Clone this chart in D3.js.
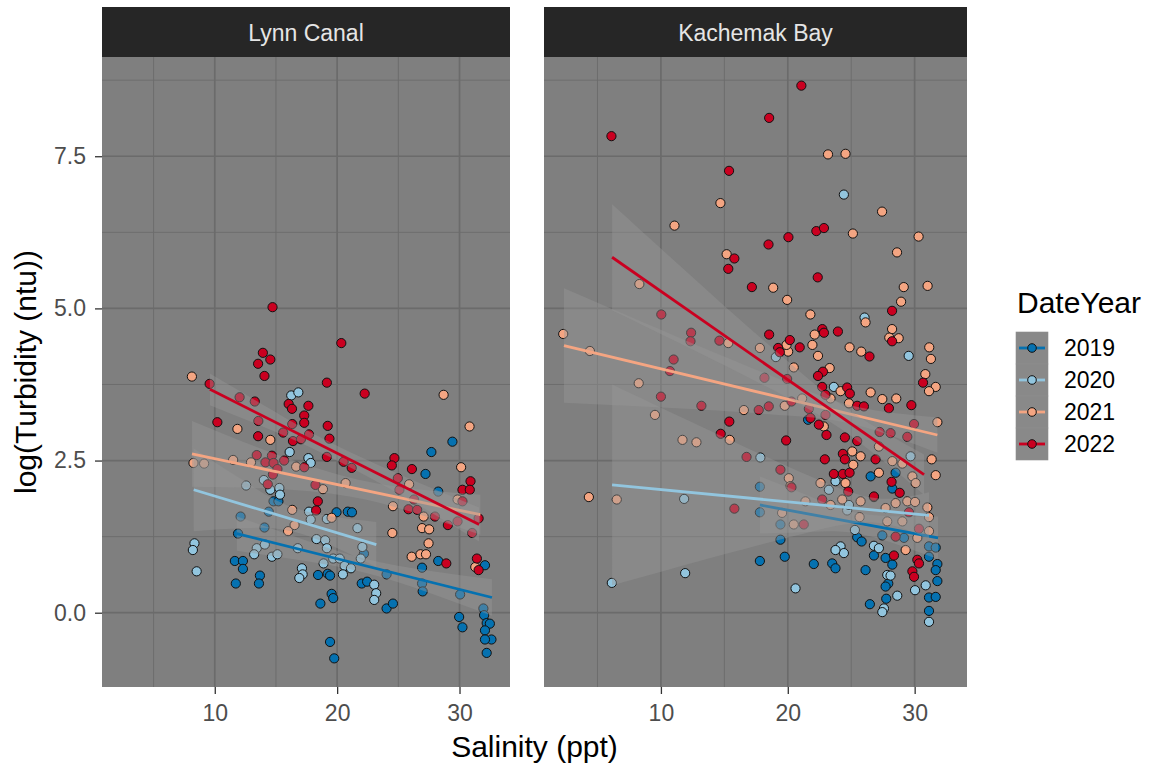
<!DOCTYPE html>
<html>
<head>
<meta charset="utf-8">
<script src="https://cdn.jsdelivr.net/npm/d3@7"></script>
<style>
  body { margin: 0; background: #ffffff; }
  svg { font-family: "Liberation Sans", Arial, Helvetica, sans-serif; }
</style>
</head>
<body>
<div id="chart"></div>
<script>
// categories
var years = ["2019", "2020", "2021", "2022"];
var yearColors = ["#0571b0", "#92c5de", "#f4a582", "#ca0020"];
var sites = ["Lynn Canal", "Kachemak Bay"];
var xTicks = [10, 20, 30];
var xMinor = [5, 15, 25];
var yTicks = [0, 2.5, 5, 7.5];
var yMinor = [-1.25, 1.25, 3.75, 6.25, 8.75];

// [salinity, log turbidity]
var lynn2019 = [[19.95,1.65],[20.87,1.66],[21.21,1.65],[14.80,1.83],[15.20,1.83],[14.41,1.66],[12.11,1.58],[14.06,1.40],[11.90,1.30],[22.19,0.97],[11.64,0.85],[12.30,0.85],[12.30,0.72],[11.72,0.48],[13.69,0.61],[13.61,0.48],[18.44,0.62],[19.23,0.64],[19.42,0.61],[22.01,0.48],[22.45,0.51],[19.55,0.31],[19.68,0.24],[18.63,0.15],[24.04,0.07],[24.56,0.15],[19.42,-0.48],[19.76,-0.75],[24.04,0.63],[26.94,0.74],[26.94,0.48],[26.99,0.35],[30.05,0.30],[29.97,-0.07],[30.24,-0.24],[31.95,0.07],[32.01,-0.04],[32.22,-0.17],[32.48,-0.18],[32.08,-0.29],[32.61,-0.44],[32.08,-0.44],[32.22,-0.66],[28.26,0.85],[32.08,0.78],[28.26,1.99],[29.42,2.81],[27.70,2.64],[27.22,2.28]];
var lynn2020 = [[16.25,3.57],[16.83,3.62],[16.12,2.64],[17.65,2.54],[17.84,2.46],[14.01,2.18],[12.56,2.09],[14.54,2.02],[15.28,2.05],[15.33,1.94],[17.70,1.66],[17.84,1.53],[19.16,1.54],[21.66,1.39],[8.34,1.14],[8.21,1.03],[8.52,0.68],[13.43,1.06],[13.22,0.96],[14.09,1.12],[14.67,0.92],[15.12,0.96],[16.78,1.06],[17.12,0.73],[17.18,0.63],[16.91,0.57],[18.31,1.21],[19.02,1.19],[19.16,1.06],[18.89,0.81],[19.68,0.89],[20.21,0.89],[20.61,0.77],[20.47,0.63],[21.13,0.73],[22.06,1.08],[21.93,0.89],[23.03,0.46],[23.19,0.32],[23.03,0.21]];
var lynn2021 = [[8.13,3.88],[11.85,3.02],[14.54,2.84],[11.50,2.51],[12.96,2.47],[8.26,2.46],[9.13,2.45],[16.65,2.40],[28.70,3.58],[30.82,3.06],[30.13,2.39],[20.69,2.13],[18.84,2.03],[16.33,1.69],[19.55,1.56],[16.52,1.44],[15.99,1.34],[24.56,1.75],[25.88,2.11],[27.07,1.58],[29.84,1.86],[24.51,1.31],[26.94,1.39],[27.52,1.37],[27.47,1.14],[26.09,0.92],[26.81,0.96],[27.26,0.96],[31.29,0.75]];
var lynn2022 = [[14.72,5.02],[13.93,4.27],[14.54,4.16],[13.54,4.09],[14.06,3.89],[9.58,3.76],[19.16,3.78],[12.03,3.54],[13.27,3.47],[16.04,3.43],[16.31,3.35],[17.65,3.40],[17.31,3.24],[17.31,3.12],[13.56,3.15],[10.21,3.13],[13.54,2.90],[15.59,2.96],[16.33,3.10],[16.39,2.82],[17.04,2.85],[17.70,2.93],[19.23,3.07],[19.37,2.86],[19.16,2.56],[13.43,2.59],[14.67,2.58],[14.14,2.47],[14.80,2.46],[15.67,2.50],[17.31,2.39],[15.12,2.36],[20.34,4.43],[22.25,3.60],[24.68,2.54],[24.47,2.42],[26.11,2.36],[20.53,2.48],[21.19,2.38],[18.42,1.83],[18.28,1.68],[18.23,2.10],[14.33,2.11],[14.75,2.27],[25.83,1.70],[26.54,1.69],[27.99,1.58],[29.05,1.44],[29.84,1.50],[31.56,1.55],[31.03,1.31],[28.92,0.81],[31.42,0.89],[31.56,0.70],[30.24,2.02],[30.90,2.16],[30.84,2.02],[30.24,1.83],[24.96,2.21],[25.09,2.02],[26.28,1.86]];

var kach2019 = [[17.8,2.07],[17.8,1.65],[17.8,0.85],[19.42,1.45],[19.42,1.20],[19.76,0.92],[21.6,3.17],[26.53,2.24],[28.24,2.04],[28.5,2.30],[27.45,1.27],[29.16,1.23],[25.47,1.24],[25.82,1.17],[31.13,1.09],[31.66,1.07],[22.05,0.80],[23.5,0.81],[23.76,0.73],[26.79,0.94],[27.71,0.90],[28.24,0.79],[31.13,0.92],[31.79,0.80],[31.66,0.70],[26.13,0.70],[27.92,0.48],[27.71,0.43],[31.79,0.52],[31.13,0.25],[31.66,0.26],[27.76,0.23],[26.47,0.14],[31.13,0.03]];
var kach2020 = [[24.42,6.87],[26.05,4.85],[29.53,4.22],[19.06,4.20],[23.63,3.71],[17.84,2.55],[29.68,2.57],[23.24,2.02],[23.76,2.16],[24.68,1.68],[24.82,1.77],[25.29,1.36],[24.16,1.09],[24.42,0.98],[23.76,1.03],[26.79,1.10],[27.18,1.06],[27.84,0.62],[28.1,0.61],[30.03,0.37],[30.87,0.45],[20.61,0.40],[28.63,0.28],[27.58,0.07],[27.45,0.01],[31.13,-0.15],[11.83,1.87],[6.13,0.49],[11.91,0.65]];
var kach2021 = [[23.17,7.53],[24.55,7.54],[27.43,6.59],[14.69,6.73],[11.07,6.36],[15.18,5.89],[25.13,6.23],[30.31,6.18],[28.61,5.92],[18.85,5.34],[19.95,5.14],[21.78,4.90],[29.14,5.35],[31.02,5.37],[28.93,5.11],[26.13,4.77],[28.22,4.66],[28.74,4.51],[28.0,4.52],[22.12,4.57],[21.94,4.40],[22.38,4.22],[24.87,4.36],[25.79,4.29],[20.03,4.29],[19.9,4.40],[17.8,4.35],[15.31,4.43],[31.15,4.36],[31.28,4.17],[30.84,3.92],[23.3,4.02],[20.47,4.03],[8.3,5.40],[2.30,4.58],[4.40,4.30],[8.25,3.77],[9.53,3.25],[16.54,3.33],[15.42,2.84],[11.70,2.84],[12.80,2.80],[24.16,3.64],[23.37,3.52],[21.13,3.52],[26.53,3.62],[27.45,3.51],[28.55,3.52],[31.66,3.71],[31.13,3.64],[24.82,3.44],[19.76,3.40],[22.84,3.06],[31.79,3.13],[25.08,2.65],[25.74,2.57],[31.34,2.52],[27.18,2.73],[28.24,2.49],[29.03,2.45],[25.16,2.43],[20.08,2.21],[20.21,2.08],[22.58,2.13],[24.55,2.13],[29.82,2.24],[31.66,2.26],[27.18,2.30],[30.08,2.13],[25.74,1.83],[26.79,1.90],[28.5,1.80],[29.42,1.83],[30.03,1.82],[24.29,1.86],[21.39,1.83],[23.37,1.77],[27.71,1.72],[31.0,1.73],[25.66,1.57],[19.55,1.64],[20.47,1.45],[31.13,1.57],[27.84,1.50],[29.03,1.50],[30.21,1.23],[31.13,1.34],[29.29,1.03],[4.32,1.90],[6.52,1.86]];
var kach2022 = [[21.07,8.66],[18.53,8.13],[6.10,7.83],[15.37,7.26],[20.05,6.17],[18.48,6.05],[22.25,6.27],[22.85,6.32],[15.79,5.82],[15.31,5.65],[17.17,5.35],[22.36,5.51],[28.22,4.96],[18.53,4.57],[20.16,4.48],[19.24,4.35],[19.37,4.28],[20.94,4.36],[22.72,4.66],[22.85,4.60],[23.95,4.62],[26.44,4.21],[28.22,4.46],[10.03,4.90],[12.38,4.60],[12.33,4.46],[14.61,4.47],[11.0,4.16],[22.77,3.96],[22.38,3.89],[10.71,3.97],[10.0,3.55],[13.19,3.40],[15.39,3.14],[14.71,2.94],[16.75,2.56],[18.16,3.86],[19.95,3.84],[24.68,3.70],[24.89,3.60],[22.71,3.71],[22.97,3.58],[30.66,3.78],[27.97,3.36],[29.74,3.41],[25.47,3.40],[26.0,3.39],[18.5,3.39],[17.71,3.33],[20.29,3.47],[21.66,3.35],[22.97,3.25],[22.45,3.09],[21.79,3.20],[23.05,2.92],[19.87,2.83],[24.5,2.88],[29.95,3.10],[27.24,2.97],[28.1,2.95],[29.42,2.89],[25.47,2.82],[24.34,2.61],[24.5,2.52],[22.92,2.52],[26.92,2.52],[23.63,2.28],[24.34,2.28],[24.87,2.30],[19.42,2.35],[20.29,2.06],[24.76,1.99],[28.18,2.15],[28.82,1.97],[26.79,1.91],[22.71,1.86],[29.55,1.65],[21.26,1.45],[28.5,1.25],[30.34,1.38],[28.37,0.94],[30.21,0.87],[30.34,0.81],[29.82,0.68],[29.95,0.59],[15.79,1.71]];

// fitted lines: [salinity start, value, salinity end, value], one per year
var lynnFit = [[11.8,1.30,32.65,0.25],[8.28,2.02,23.2,1.12],[8.14,2.61,31.7,1.61],[9.6,3.67,31.6,1.45]];
var kachFit = [[17.8,1.77,31.84,1.23],[6.15,2.10,31.13,1.60],[2.36,4.39,31.79,2.92],[6.15,5.84,30.74,2.27]];

// confidence ribbons: [salinity, lower, upper]
var lynnBands = [
  [[11.8,1.02,1.58],[17,0.86,1.22],[22.2,0.66,0.89],[27.5,0.33,0.69],[32.65,-0.05,0.55]],
  [[8.28,1.34,2.70],[12.5,1.39,2.15],[17,1.30,1.69],[23.2,0.75,1.49]],
  [[8.14,2.07,3.15],[14.5,2.04,2.64],[21,1.91,2.22],[26.5,1.63,2.03],[31.7,1.28,1.94]],
  [[9.6,3.41,3.93],[14.5,3.01,3.35],[19,2.60,2.84],[25,1.96,2.28],[31.6,1.17,1.73]]
];
var kachBands = [
  [[17.8,1.30,2.24],[22,1.33,1.89],[26,1.28,1.62],[31.84,0.88,1.58]],
  [[6.15,0.45,3.75],[15,0.96,2.88],[22,1.34,2.22],[27,1.48,1.88],[31.13,1.22,1.98]],
  [[2.36,3.45,5.33],[12,3.35,4.47],[20,3.24,3.78],[25.5,3.08,3.38],[31.79,2.63,3.21]],
  [[6.15,4.97,6.71],[14,4.17,5.23],[20,3.53,4.13],[25,2.90,3.30],[30.74,1.94,2.60]]
];

var panels = [
  {name: sites[0], pts: [lynn2019, lynn2020, lynn2021, lynn2022], fit: lynnFit, band: lynnBands, x0: 102, x1: 510},
  {name: sites[1], pts: [kach2019, kach2020, kach2021, kach2022], fit: kachFit, band: kachBands, x0: 544, x1: 967}
];

var width = 1159, height = 768
var panelTop = 57, panelBottom = 687

var svg = d3.select("#chart").append("svg")
    .attr("width", width).attr("height", height)

// domains from data, ggplot style 5% padding
var allPts = []
panels.forEach(function(p){ p.pts.forEach(function(a){ allPts = allPts.concat(a) }) })
function pad(ext){ var d = (ext[1]-ext[0])*0.05; return [ext[0]-d, ext[1]+d] }
var xDom = pad(d3.extent(allPts, function(d){ return d[0] }))
var yDom = pad(d3.extent(allPts, function(d){ return d[1] }))
function inside(dom){ return function(v){ return v >= dom[0] && v <= dom[1] } }

var y = d3.scaleLinear().domain(yDom).range([panelBottom, panelTop])

panels.forEach(function(p, pi){
    var x = d3.scaleLinear().domain(xDom).range([p.x0, p.x1])
    var g = svg.append("g")

    g.append("rect").attr("x", p.x0).attr("y", panelTop)
        .attr("width", p.x1 - p.x0).attr("height", panelBottom - panelTop)
        .attr("fill", "#7f7f7f")

    // grid
    g.selectAll(".vminor").data(xMinor.filter(inside(xDom))).enter().append("line")
        .attr("x1", function(d){ return x(d) }).attr("x2", function(d){ return x(d) })
        .attr("y1", panelTop).attr("y2", panelBottom)
        .attr("stroke", "#6b6b6b").attr("stroke-width", 0.9)
    g.selectAll(".hminor").data(yMinor.filter(inside(yDom))).enter().append("line")
        .attr("x1", p.x0).attr("x2", p.x1)
        .attr("y1", function(d){ return y(d) }).attr("y2", function(d){ return y(d) })
        .attr("stroke", "#6b6b6b").attr("stroke-width", 0.9)
    g.selectAll(".vmajor").data(xTicks).enter().append("line")
        .attr("x1", function(d){ return x(d) }).attr("x2", function(d){ return x(d) })
        .attr("y1", panelTop).attr("y2", panelBottom)
        .attr("stroke", "#6b6b6b").attr("stroke-width", 1.7)
    g.selectAll(".hmajor").data(yTicks).enter().append("line")
        .attr("x1", p.x0).attr("x2", p.x1)
        .attr("y1", function(d){ return y(d) }).attr("y2", function(d){ return y(d) })
        .attr("stroke", "#6b6b6b").attr("stroke-width", 1.7)

    // points, one layer per year
    p.pts.forEach(function(arr, yi){
        g.selectAll(".pt" + yi).data(arr).enter().append("circle")
            .attr("cx", function(d){ return x(d[0]) })
            .attr("cy", function(d){ return y(d[1]) })
            .attr("r", 4.6)
            .attr("fill", yearColors[yi])
            .attr("stroke", "#111")
            .attr("stroke-width", 1)
    })

    // smooth: ribbon then line for each year
    var area = d3.area()
        .x(function(d){ return x(d[0]) })
        .y0(function(d){ return y(d[1]) })
        .y1(function(d){ return y(d[2]) })
        .curve(d3.curveNatural)
    p.fit.forEach(function(f, yi){
        g.append("path").datum(p.band[yi])
            .attr("d", area)
            .attr("fill", "#999999").attr("fill-opacity", 0.4)
        g.append("line")
            .attr("x1", x(f[0])).attr("y1", y(f[1]))
            .attr("x2", x(f[2])).attr("y2", y(f[3]))
            .attr("stroke", yearColors[yi]).attr("stroke-width", 2.8)
    })

    // strip
    g.append("rect").attr("x", p.x0).attr("y", 7)
        .attr("width", p.x1 - p.x0).attr("height", panelTop - 7)
        .attr("fill", "#262626")
    g.append("text").attr("x", (p.x0 + p.x1)/2).attr("y", 41)
        .attr("text-anchor", "middle").attr("font-size", 23)
        .attr("fill", "#e5e5e5").text(p.name)

    // x axis
    var xa = g.append("g").attr("transform", "translate(0," + panelBottom + ")")
        .call(d3.axisBottom(x).tickValues(xTicks).tickSize(7).tickPadding(11).tickFormat(d3.format("d")))
    xa.select(".domain").remove()
    xa.selectAll("line").attr("stroke", "#333333").attr("stroke-width", 1.3)
    xa.selectAll("text").attr("font-size", 23).attr("fill", "#4d4d4d")
        .attr("font-family", "Liberation Sans, Arial, sans-serif")

    if (pi == 0) {
        var ya = g.append("g").attr("transform", "translate(" + p.x0 + ",0)")
            .call(d3.axisLeft(y).tickValues(yTicks).tickSize(7).tickPadding(9).tickFormat(d3.format(".1f")))
        ya.select(".domain").remove()
        ya.selectAll("line").attr("stroke", "#333333").attr("stroke-width", 1.3)
        ya.selectAll("text").attr("font-size", 23).attr("fill", "#4d4d4d")
            .attr("font-family", "Liberation Sans, Arial, sans-serif")
    }
})

// axis titles
svg.append("text").attr("x", (102 + 967)/2).attr("y", 757)
    .attr("text-anchor", "middle").attr("font-size", 30).attr("fill", "#000")
    .text("Salinity (ppt)")
svg.append("text").attr("transform", "translate(36," + (panelTop + panelBottom)/2 + ") rotate(-90)")
    .attr("text-anchor", "middle").attr("font-size", 30).attr("fill", "#000")
    .text("log(Turbidity (ntu))")

// legend
var lg = svg.append("g").attr("transform", "translate(1016,0)")
lg.append("text").attr("x", 1).attr("y", 313).attr("font-size", 30).attr("fill", "#000").text("DateYear")
years.forEach(function(yr, i){
    var ky = 332 + i*32
    lg.append("rect").attr("x", 0).attr("y", ky).attr("width", 32).attr("height", 32).attr("fill", "#7f7f7f")
    lg.append("rect").attr("x", 0).attr("y", ky).attr("width", 32).attr("height", 32)
        .attr("fill", "#999999").attr("fill-opacity", 0.4)
        .attr("stroke", "#8e8e8e").attr("stroke-width", 0.6)
    lg.append("line").attr("x1", 3).attr("x2", 29).attr("y1", ky + 16).attr("y2", ky + 16)
        .attr("stroke", yearColors[i]).attr("stroke-width", 2.8)
    lg.append("circle").attr("cx", 16).attr("cy", ky + 16).attr("r", 4.3)
        .attr("fill", yearColors[i]).attr("stroke", "#111").attr("stroke-width", 1)
    lg.append("text").attr("x", 48).attr("y", ky + 16).attr("dy", "0.35em")
        .attr("font-size", 23).attr("fill", "#000").text(yr)
})
</script>
</body>
</html>
